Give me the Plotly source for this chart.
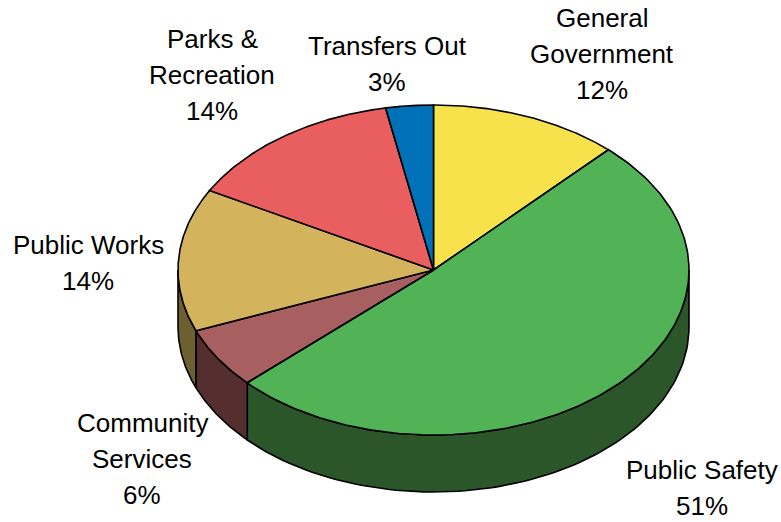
import numpy as np
import plotly.graph_objects as go

# Budget shares, clockwise from twelve o'clock
categories = ["General Government", "Public Safety", "Community Services",
              "Public Works", "Parks & Recreation", "Transfers Out"]
shares = [12, 51, 6, 14, 14, 3]
top_colors = ["#F7E24B", "#52B256", "#A85F5F", "#D3B35C", "#E95F5F", "#0071B8"]
wall_colors = ["#8A7F2A", "#2A562A", "#552E30", "#6E5F33", "#7A3030", "#003A60"]

# Label lines as printed next to each slice
label_lines = [
    ["General", "Government", "12%"],
    ["Public Safety", "51%"],
    ["Community", "Services", "6%"],
    ["Public Works", "14%"],
    ["Parks &", "Recreation", "14%"],
    ["Transfers Out", "3%"],
]
label_centers = [(602, 18), (702, 470), (142, 423), (88, 245), (212, 39), (387, 46)]
LINE_STEP = 36

# Tilted-disc geometry in page pixels
CX, CY, RX, RY, DEPTH = 433.5, 270.0, 255.5, 165.0, 57.0
OUTLINE = dict(color="#000000", width=1.6)


def rim(theta, drop=0.0):
    """Point on the disc rim; theta runs clockwise from the top, in degrees."""
    t = np.radians(theta)
    return CX + RX * np.sin(t), CY - RY * np.cos(t) + drop


fig = go.Figure()
edges = np.concatenate([[0], np.cumsum(shares)]) * 3.6

# Side walls: only the front half of the rim (90 to 270 degrees) is visible
for start, end, color in zip(edges[:-1], edges[1:], wall_colors):
    a, b = max(start, 90), min(end, 270)
    if a >= b:
        continue
    th = np.linspace(a, b, 90)
    x_top, y_top = rim(th)
    x_bot, y_bot = rim(th[::-1], DEPTH)
    fig.add_trace(go.Scatter(
        x=np.concatenate([x_top, x_bot, x_top[:1]]),
        y=np.concatenate([y_top, y_bot, y_top[:1]]),
        mode="lines", fill="toself", fillcolor=color,
        line=OUTLINE, hoverinfo="skip", showlegend=False,
    ))

# Top face wedges
for name, start, end, color in zip(categories, edges[:-1], edges[1:], top_colors):
    th = np.linspace(start, end, 180)
    x_arc, y_arc = rim(th)
    fig.add_trace(go.Scatter(
        x=np.concatenate([[CX], x_arc, [CX]]),
        y=np.concatenate([[CY], y_arc, [CY]]),
        mode="lines", fill="toself", fillcolor=color,
        line=OUTLINE, name=name, showlegend=False,
    ))

# Slice labels, one annotation per printed line
for lines, (lx, ly) in zip(label_lines, label_centers):
    for i, text in enumerate(lines):
        fig.add_annotation(
            x=lx, y=ly + i * LINE_STEP, text=text, showarrow=False,
            xanchor="center", yanchor="middle",
            font=dict(family="Liberation Sans, Arial, sans-serif", size=26, color="#000000"),
        )

fig.update_layout(
    width=781, height=522, margin=dict(l=0, r=0, t=0, b=0),
    paper_bgcolor="#FFFFFF", plot_bgcolor="#FFFFFF",
    xaxis=dict(range=[0, 781], visible=False, fixedrange=True),
    yaxis=dict(range=[522, 0], visible=False, fixedrange=True),
)

fig.write_html("out.html", config={"displayModeBar": False})
